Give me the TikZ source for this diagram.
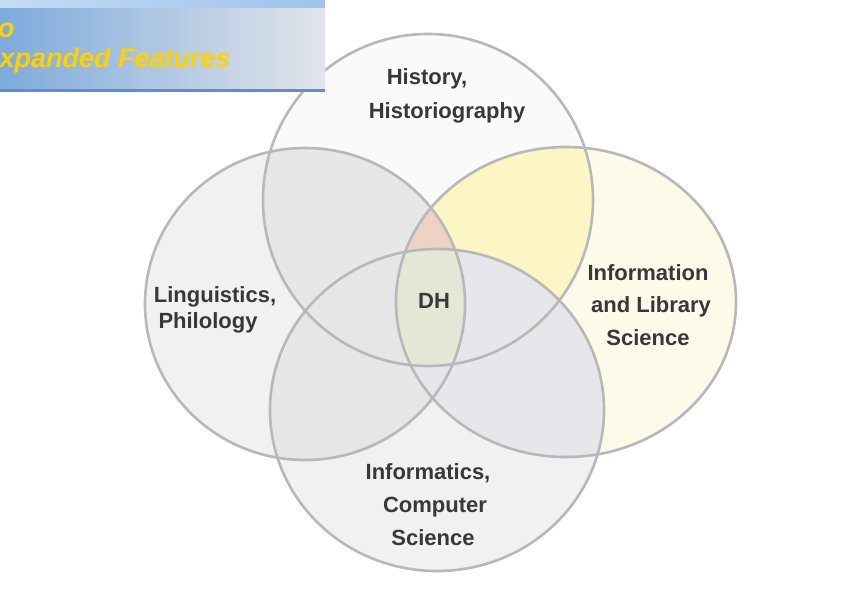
\documentclass[tikz,border=0pt]{standalone}
\usepackage{fontspec}
\setmainfont{Liberation Sans}
\definecolor{cT}{HTML}{FAFAFA}
\definecolor{cL}{HTML}{F1F1F1}
\definecolor{cR}{HTML}{FCFBEA}
\definecolor{cB}{HTML}{F1F1F1}
\definecolor{cTL}{HTML}{E7E7E8}
\definecolor{cTR}{HTML}{FBF6C4}
\definecolor{cLB}{HTML}{E6E6E6}
\definecolor{cRB}{HTML}{E7E7EB}
\definecolor{cTLR}{HTML}{EDD3C4}
\definecolor{cC}{HTML}{E6E6D6}
\definecolor{ringc}{HTML}{B8B8B8}
\definecolor{labc}{HTML}{383838}
\definecolor{titc}{HTML}{FFD100}
\definecolor{boxL}{RGB}{126,170,220}
\definecolor{boxR}{RGB}{226,229,234}
\definecolor{stripL}{RGB}{196,220,244}
\definecolor{stripR}{RGB}{159,194,236}
\definecolor{boxline}{RGB}{91,143,213}
\newcommand\pathTop{(428,200) ellipse [x radius=165pt, y radius=166pt]}
\newcommand\pathLeft{(305,304) ellipse [x radius=160pt, y radius=156pt]}
\newcommand\pathRight{(566,302) ellipse [x radius=170pt, y radius=155pt]}
\newcommand\pathBot{(437,410) ellipse [x radius=167pt, y radius=161pt]}
\begin{document}
\begin{tikzpicture}[x=1pt,y=-1pt,
  ring/.style={draw=ringc, line width=2.6pt},
  lbl/.style={font=\fontsize{22}{26}\selectfont\bfseries, text=labc, inner sep=0pt, anchor=base},
  tit/.style={font=\fontsize{27}{31}\selectfont\bfseries\itshape, text=titc, inner sep=0pt, anchor=base west}]
\useasboundingbox (0,0) rectangle (865,612);
\fill[white] (0,0) rectangle (865,612);
% base fills
\fill[cT] \pathTop;
\fill[cL] \pathLeft;
\fill[cR] \pathRight;
\fill[cB] \pathBot;
% overlaps
\begin{scope}\clip \pathTop; \fill[cTL] \pathLeft; \fill[cTR] \pathRight; \end{scope}
\begin{scope}\clip \pathLeft; \fill[cLB] \pathBot; \end{scope}
\begin{scope}\clip \pathRight; \fill[cRB] \pathBot; \end{scope}
\begin{scope}\clip \pathTop; \clip \pathLeft; \fill[cTLR] \pathRight; \end{scope}
\begin{scope}\clip \pathTop; \clip \pathLeft; \clip \pathRight; \fill[cC] \pathBot; \end{scope}
% rings
\draw[ring] \pathTop;
\draw[ring] \pathLeft;
\draw[ring] \pathRight;
\draw[ring] \pathBot;
% labels
\node[lbl] (t1) at (427,85) {History,};
\node[lbl] (t2) at (447,119) {Historiography};
\node[lbl] (l1) at (215,303) {Linguistics,};
\node[lbl] (l2) at (208,329) {Philology};
\node[lbl] (r1) at (648,281) {Information};
\node[lbl] (r2) at (651,313) {and Library};
\node[lbl] (r3) at (648,345) {Science};
\node[lbl] (b1) at (428,479) {Informatics,};
\node[lbl] (b2) at (435,512) {Computer};
\node[lbl] (b3) at (433,545) {Science};
\node[lbl] (dh) at (434,309) {DH};
% title box
\shade[left color=boxL, right color=boxR] (0,8) rectangle (325,90);
\shade[left color=stripL, right color=stripR] (0,0) rectangle (325,8);
\fill[boxline] (0,89) rectangle (325,92);
\node[tit] (h1) at (-2,38) {o};
\node[tit] (h2) at (-18.5,68) {Expanded Features};
\end{tikzpicture}
\end{document}
